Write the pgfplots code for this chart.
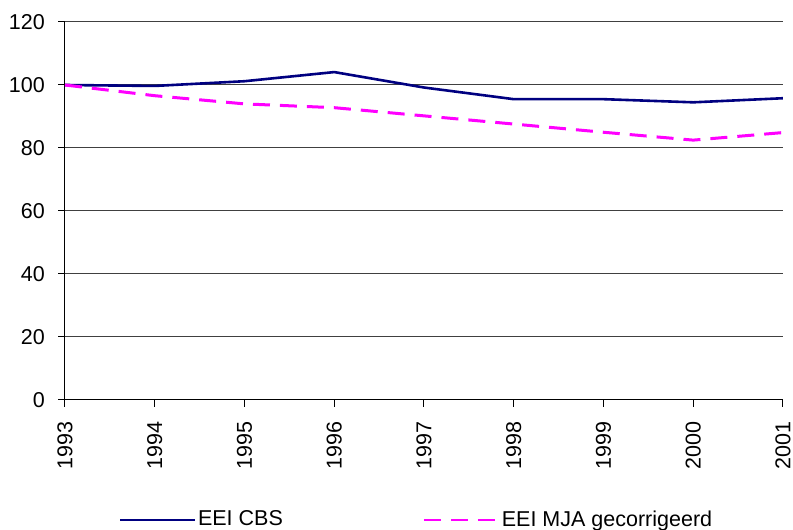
\documentclass[border=0pt]{standalone}
\usepackage{pgfplots}
\pgfplotsset{compat=1.18}
\usepackage{fontspec}
\setmainfont{Liberation Sans}
\definecolor{cbs}{RGB}{0,0,128}
\definecolor{mja}{RGB}{255,0,255}
\begin{document}
\fontsize{21}{25}\selectfont
\begin{tikzpicture}
\useasboundingbox (0,0) rectangle (793pt,530pt);
\begin{axis}[
  at={(65pt,130pt)}, anchor=south west,
  scale only axis, width=718pt, height=378pt,
  xmin=1993, xmax=2001, ymin=0, ymax=120,
  xtick={1993,...,2001}, ytick={0,20,...,120},
  x tick label style={/pgf/number format/1000 sep={}},
  /pgf/number format/assume math mode=true,
  tick label style={font=\fontsize{21.5}{25}\selectfont},
  axis x line*=bottom, axis y line*=left,
  axis line style={black, line width=1pt, -},
  tick style={black, line width=1pt},
  tick align=outside, major tick length=7pt,
  ymajorgrids, grid style={black!75, line width=1pt},
  yticklabel style={xshift=-6pt},
  xticklabel style={rotate=90, anchor=east, yshift=0pt, xshift=-7pt},
  legend style={at={(axis description cs:0.075,-0.317)}, anchor=west, draw=none, fill=none,
    legend columns=2, inner sep=0pt, font=\fontsize{21.5}{25}\selectfont,
    /tikz/every even column/.append style={column sep=138pt},
    nodes={inner sep=2pt}},
  legend cell align=left,
  legend image code/.code={\draw[#1, line width=2pt] (0pt,0pt) -- (75pt,0pt);},
]
\addplot[cbs, line width=2.6pt] coordinates {
(1993,100) (1994,99.7) (1995,101.2) (1996,104.1) (1997,99.2) (1998,95.5) (1999,95.5) (2000,94.5) (2001,95.8)};
\addlegendentry{EEI CBS}
\addplot[mja, line width=3pt, dash pattern=on 17pt off 10pt] coordinates {
(1993,100) (1994,96.6) (1995,94.0) (1996,92.8) (1997,90.2) (1998,87.6) (1999,85.0) (2000,82.5) (2001,84.9)};
\addlegendentry{EEI MJA gecorrigeerd}
\end{axis}
\end{tikzpicture}
\end{document}
